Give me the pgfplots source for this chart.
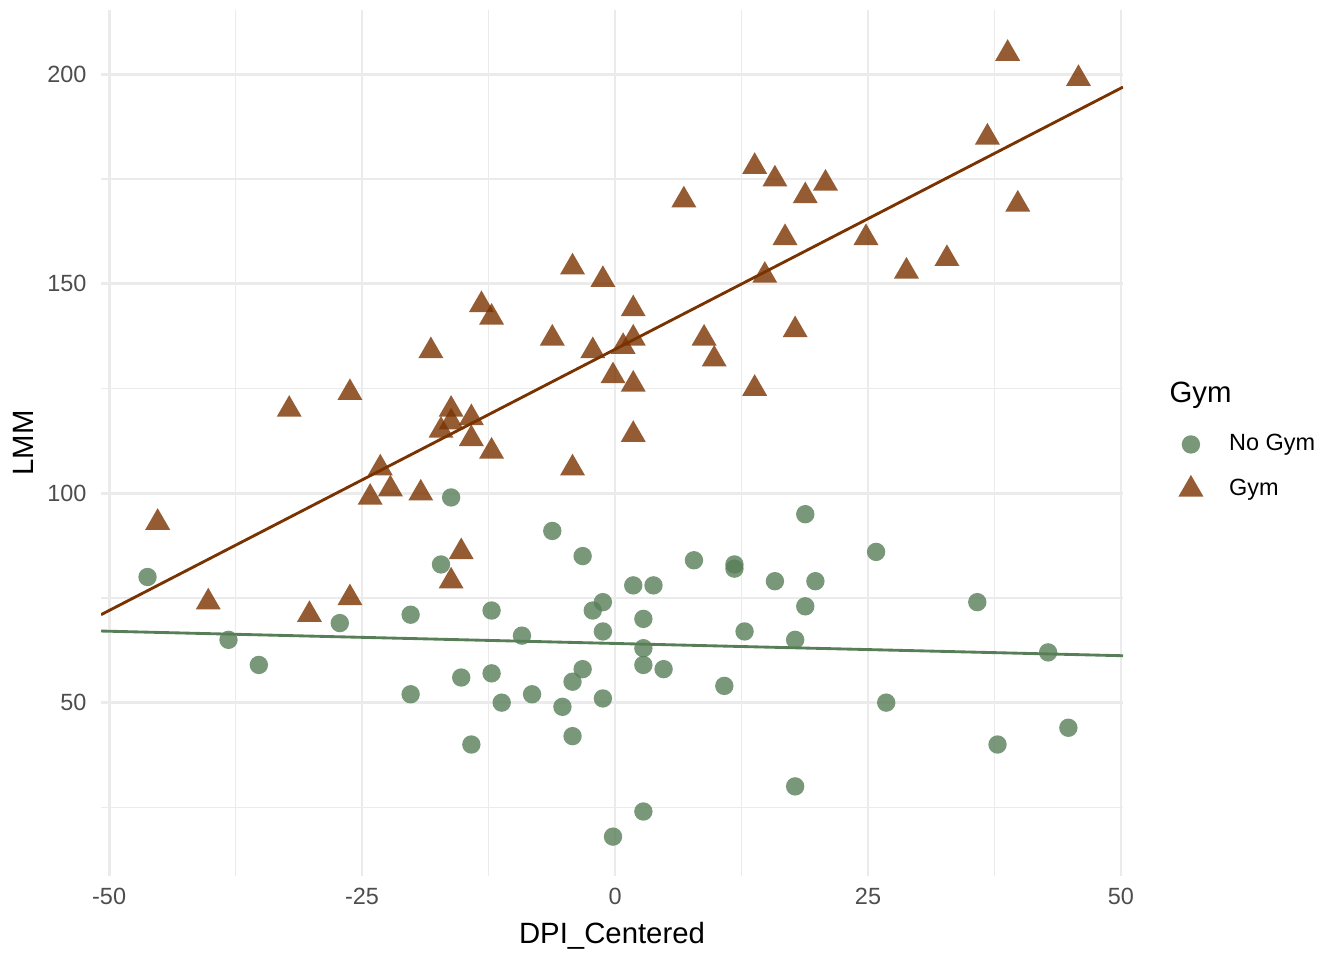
\documentclass[border=0pt]{standalone}
\usepackage{fontspec}
\setmainfont{Liberation Sans}
\usepackage{pgfplots}
\pgfplotsset{compat=1.18}
\definecolor{nogym}{HTML}{587E58}
\definecolor{gym}{HTML}{7A3300}
\definecolor{gridc}{HTML}{EBEBEB}
\definecolor{tickc}{HTML}{4D4D4D}
\begin{document}
\begin{tikzpicture}
\useasboundingbox (0,0) rectangle (504pt,360pt);
\begin{axis}[
  at={(37.875pt,31.5pt)}, anchor=south west,
  scale only axis, width=383.25pt, height=324.75pt,
  xmin=-50.8, xmax=50.2, ymin=8.6, ymax=215.4,
  axis line style={draw=none},
  major tick length=0pt, minor tick length=0pt,
  tick style={draw=none},
  xtick={-50,-25,0,25,50},
  xticklabels={{-50},{-25},{0},{25},{50}},
  minor xtick={-37.5,-12.5,12.5,37.5},
  ytick={50,100,150,200},
  yticklabels={50,100,150,200},
  minor ytick={25,75,125,175},
  grid=both,
  major grid style={color=gridc, line width=1.07pt},
  minor grid style={color=gridc, line width=0.53pt},
  xticklabel style={font=\fontsize{8.8}{10}\selectfont, text=tickc, anchor=north, inner sep=0pt, yshift=-4.5pt},
  yticklabel style={font=\fontsize{8.8}{10}\selectfont, text=tickc, anchor=east, inner sep=0pt, xshift=-5.25pt},
  xlabel={DPI\_Centered},
  ylabel={LMM},
  xlabel style={font=\fontsize{11}{13}\selectfont, at={(axis description cs:0.5,-0.0774)}, anchor=base, inner sep=0pt},
  ylabel style={font=\fontsize{11}{13}\selectfont, at={(axis description cs:-0.0665,0.5)}, anchor=base, inner sep=0pt},
  legend style={at={(axis description cs:1.0482,0.5101)}, anchor=north west, draw=none, fill=none,
    inner sep=0pt, outer sep=0pt, row sep=7.6pt, column sep=7.3pt,
    font=\fontsize{8.8}{10}\selectfont, nodes={inner sep=0pt}},
  legend cell align=left,
  legend image code/.code={\path[draw=none,fill=none] (0pt,-3pt) rectangle (14pt,3pt); \draw[#1] plot coordinates {(7pt,0pt)};},
]
\addplot[only marks, mark=*, mark size=3.45pt, color=nogym, mark options={draw=nogym, fill=nogym, draw opacity=0, fill opacity=0.8}] coordinates {
(-46.2,80) (-38.2,65) (-35.2,59) (-27.2,69) (-20.2,71) (-20.2,52) (-17.2,83) (-16.2,99)
(-15.2,56) (-14.2,40) (-12.2,72) (-12.2,57) (-11.2,50) (-9.2,66) (-8.2,52) (-6.2,91)
(-5.2,49) (-4.2,55) (-4.2,42) (-3.2,85) (-3.2,58) (-2.2,72) (-1.2,74) (-1.2,67)
(-1.2,51) (-0.2,18) (1.8,78) (2.8,70) (2.8,63) (2.8,59) (2.8,24) (3.8,78)
(4.8,58) (7.8,84) (10.8,54) (11.8,83) (11.8,82) (12.8,67) (15.8,79) (17.8,65)
(17.8,30) (18.8,95) (18.8,73) (19.8,79) (25.8,86) (26.8,50) (35.8,74) (37.8,40)
(42.8,62) (44.8,44)
};
\addlegendentry{No Gym}
\addplot[only marks, mark=triangle*, mark size=5.4pt, color=gym, mark options={draw=gym, fill=gym, draw opacity=0, fill opacity=0.8}] coordinates {
(-45.2,93) (-40.2,74) (-32.2,120) (-30.2,71) (-26.2,124) (-26.2,75) (-24.2,99) (-23.2,106)
(-22.2,101) (-19.2,100) (-18.2,134) (-17.2,115) (-16.2,120) (-16.2,117) (-16.2,79) (-15.2,86)
(-14.2,118) (-14.2,113) (-13.2,145) (-12.2,142) (-12.2,110) (-6.2,137) (-4.2,154) (-4.2,106)
(-2.2,134) (-1.2,151) (0.8,135) (-0.2,128) (1.8,144) (1.8,137) (1.8,126) (1.8,114)
(6.8,170) (8.8,137) (9.8,132) (13.8,178) (13.8,125) (14.8,152) (15.8,175) (16.8,161)
(17.8,139) (18.8,171) (20.8,174) (24.8,161) (28.8,153) (32.8,156) (36.8,185) (38.8,205)
(39.8,169) (45.8,199)
};
\addlegendentry{Gym}
\addplot[nogym, line width=1.07pt, forget plot] coordinates {(-50.8,67.1) (50.2,61.2)};
\addplot[gym, line width=1.07pt, forget plot] coordinates {(-50.8,71.0) (50.2,197.0)};
\end{axis}
\node[anchor=base west, inner sep=0pt, font=\fontsize{11}{13}\selectfont] at (438.4pt,208.9pt) {Gym};
\end{tikzpicture}
\end{document}
